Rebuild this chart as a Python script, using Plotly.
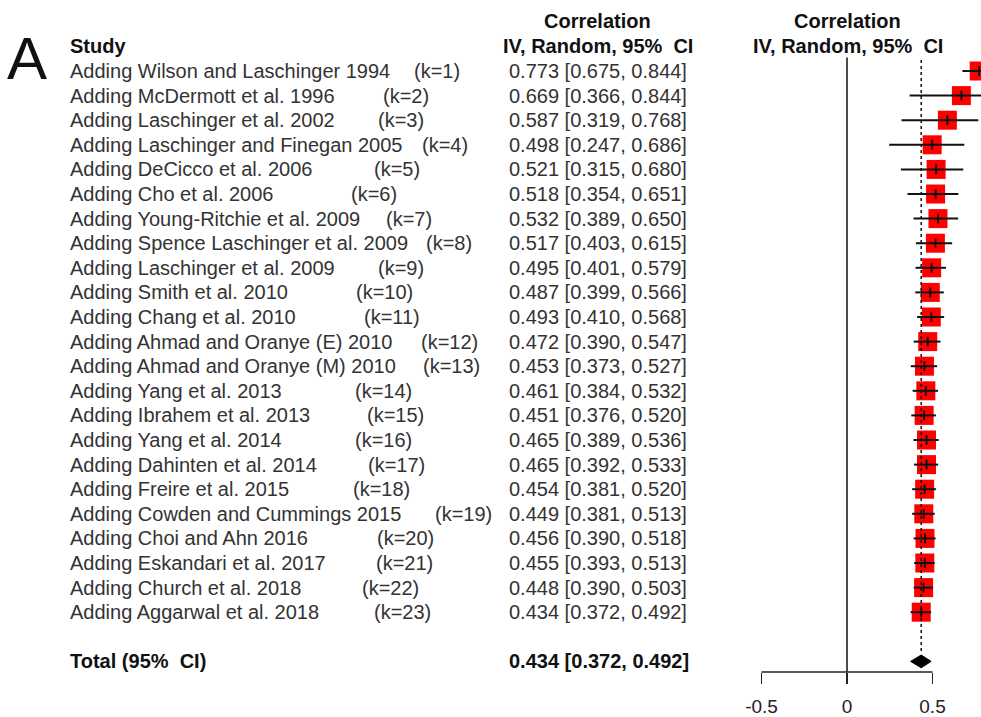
import plotly.graph_objects as go

# ---------------- data ----------------
studies = [
    "Adding Wilson and Laschinger 1994",
    "Adding McDermott et al. 1996",
    "Adding Laschinger et al. 2002",
    "Adding Laschinger and Finegan 2005",
    "Adding DeCicco et al. 2006",
    "Adding Cho et al. 2006",
    "Adding Young-Ritchie et al. 2009",
    "Adding Spence Laschinger et al. 2009",
    "Adding Laschinger et al. 2009",
    "Adding Smith et al. 2010",
    "Adding Chang et al. 2010",
    "Adding Ahmad and Oranye (E) 2010",
    "Adding Ahmad and Oranye (M) 2010",
    "Adding Yang et al. 2013",
    "Adding Ibrahem et al. 2013",
    "Adding Yang et al. 2014",
    "Adding Dahinten et al. 2014",
    "Adding Freire et al. 2015",
    "Adding Cowden and Cummings 2015",
    "Adding Choi and Ahn 2016",
    "Adding Eskandari et al. 2017",
    "Adding Church et al. 2018",
    "Adding Aggarwal et al. 2018",
]
k_labels = ["(k=%d)" % i for i in range(1, 24)]
estimate = [0.773, 0.669, 0.587, 0.498, 0.521, 0.518, 0.532, 0.517, 0.495, 0.487,
            0.493, 0.472, 0.453, 0.461, 0.451, 0.465, 0.465, 0.454, 0.449, 0.456,
            0.455, 0.448, 0.434]
ci_low = [0.675, 0.366, 0.319, 0.247, 0.315, 0.354, 0.389, 0.403, 0.401, 0.399,
          0.410, 0.390, 0.373, 0.384, 0.376, 0.389, 0.392, 0.381, 0.381, 0.390,
          0.393, 0.390, 0.372]
ci_high = [0.844, 0.844, 0.768, 0.686, 0.680, 0.651, 0.650, 0.615, 0.579, 0.566,
           0.568, 0.547, 0.527, 0.532, 0.520, 0.536, 0.533, 0.520, 0.513, 0.518,
           0.513, 0.503, 0.492]
total_label = "Total (95%  CI)"
total_est, total_low, total_high = 0.434, 0.372, 0.492
tick_vals = [-0.5, 0, 0.5]
tick_text = ["-0.5", "0", "0.5"]

# ---------------- layout constants ----------------
W, H = 981, 717
FONT = "Liberation Sans, Arial, sans-serif"
TXT = "#333333"
BLK = "#111111"
rows = list(range(1, len(studies) + 1))
total_row = len(studies) + 2
ROW_H = 24.6
ROW1_PX = 71
AXIS_PX = 672
Y_TOP = 1 - ROW1_PX / ROW_H
Y_BOTTOM = 1 + (AXIS_PX - ROW1_PX) / ROW_H
ZERO_PX = 847
UNIT = 171.0
X_LEFT = -ZERO_PX / UNIT
X_RIGHT = (W - ZERO_PX) / UNIT
# x pixel positions of the "(k=..)" labels (layout)
K_LABEL_PX = [412, 381, 376, 420, 372, 349, 384, 424, 376, 354, 362, 419, 421,
              353, 365, 353, 366, 351, 433, 375, 374, 360, 372]


def px(x):
    return x / W


fig = go.Figure()

# squares
fig.add_trace(go.Scatter(
    x=estimate, y=rows, mode="markers",
    marker=dict(symbol="square", size=19, color="#ff0000", line=dict(width=0)),
    hoverinfo="skip", showlegend=False))

# CI lines
cx, cy = [], []
for lo, hi, r in zip(ci_low, ci_high, rows):
    cx += [lo, hi, None]
    cy += [r, r, None]
fig.add_trace(go.Scatter(x=cx, y=cy, mode="lines",
                         line=dict(color="#111111", width=2),
                         hoverinfo="skip", showlegend=False))

# estimate tick marks
fig.add_trace(go.Scatter(
    x=estimate, y=rows, mode="markers",
    marker=dict(symbol="line-ns-open", size=7, color="#111111",
                line=dict(width=2, color="#111111")),
    hoverinfo="skip", showlegend=False))

# diamond for total
fig.add_trace(go.Scatter(
    x=[total_low, total_est, total_high, total_est, total_low],
    y=[total_row, total_row - 0.26, total_row, total_row + 0.26, total_row],
    mode="lines", fill="toself", fillcolor="#000000",
    line=dict(color="#000000", width=1),
    hoverinfo="skip", showlegend=False))

shapes = [
    # null line at 0
    dict(type="line", xref="x", yref="y", x0=0, x1=0, y0=0.45, y1=Y_BOTTOM,
         line=dict(color="#111111", width=1.5)),
    # pooled-effect dotted line
    dict(type="line", xref="x", yref="y", x0=total_est, x1=total_est,
         y0=0.55, y1=total_row - 0.3, line=dict(color="#111111", width=1.5, dash="dot")),
    # axis baseline
    dict(type="line", xref="x", yref="paper", x0=tick_vals[0], x1=tick_vals[-1],
         y0=0, y1=0, line=dict(color="#222222", width=1.5)),
]

ann = []
# big panel letter
ann.append(dict(x=px(27), y=0.5, xref="paper", yref="y", text="A", showarrow=False,
                font=dict(family=FONT, size=60, color="#111111"),
                xanchor="center", yanchor="middle"))
# headers
ann.append(dict(x=px(68), y=0, xref="paper", yref="y", text="<b>Study</b>",
                showarrow=False, font=dict(family=FONT, size=20, color=BLK),
                xanchor="left", yanchor="middle"))
for cxp in (597.5, 847.5):
    ann.append(dict(x=px(cxp), y=-1.03, xref="paper", yref="y", text="<b>Correlation</b>",
                    showarrow=False, font=dict(family=FONT, size=20, color=BLK),
                    xanchor="center", yanchor="middle"))
    ann.append(dict(x=px(cxp), y=-0.02, xref="paper", yref="y",
                    text="<b>IV, Random, 95%  CI</b>",
                    showarrow=False, font=dict(family=FONT, size=20, color=BLK),
                    xanchor="center", yanchor="middle"))

for s, k, e, lo, hi, r, kx in zip(studies, k_labels, estimate, ci_low, ci_high, rows, K_LABEL_PX):
    ann.append(dict(x=px(68), y=r, xref="paper", yref="y", text=s, showarrow=False,
                    font=dict(family=FONT, size=20, color=TXT),
                    xanchor="left", yanchor="middle"))
    ann.append(dict(x=px(kx), y=r, xref="paper", yref="y", text=k, showarrow=False,
                    font=dict(family=FONT, size=20, color=TXT),
                    xanchor="left", yanchor="middle"))
    ann.append(dict(x=px(507), y=r, xref="paper", yref="y",
                    text="%.3f [%.3f, %.3f]" % (e, lo, hi), showarrow=False,
                    font=dict(family=FONT, size=20, color=TXT),
                    xanchor="left", yanchor="middle"))

ann.append(dict(x=px(68), y=total_row, xref="paper", yref="y",
                text="<b>%s</b>" % total_label, showarrow=False,
                font=dict(family=FONT, size=20, color=BLK),
                xanchor="left", yanchor="middle"))
ann.append(dict(x=px(507), y=total_row, xref="paper", yref="y",
                text="<b>%.3f [%.3f, %.3f]</b>" % (total_est, total_low, total_high),
                showarrow=False, font=dict(family=FONT, size=20, color=BLK),
                xanchor="left", yanchor="middle"))

fig.update_layout(
    width=W, height=H,
    margin=dict(l=0, r=0, t=0, b=H - AXIS_PX, pad=0, autoexpand=False),
    paper_bgcolor="white", plot_bgcolor="white",
    showlegend=False,
    shapes=shapes, annotations=ann,
    xaxis=dict(range=[X_LEFT, X_RIGHT], domain=[0, 1], showgrid=False, zeroline=False,
               showline=False, tickmode="array", tickvals=tick_vals, ticktext=tick_text,
               ticks="outside", ticklen=11, tickwidth=1.5, tickcolor="#222222",
               ticklabelstandoff=6, automargin=False,
               tickfont=dict(family=FONT, size=19, color="#222222"), fixedrange=True),
    yaxis=dict(range=[Y_BOTTOM, Y_TOP], showgrid=False, zeroline=False, showline=False,
               showticklabels=False, ticks="", fixedrange=True, automargin=False),
)

fig.write_html("out.html",
               config={"displayModeBar": False, "staticPlot": True},
               post_script="document.body.style.margin='0';document.body.style.overflow='hidden';")
